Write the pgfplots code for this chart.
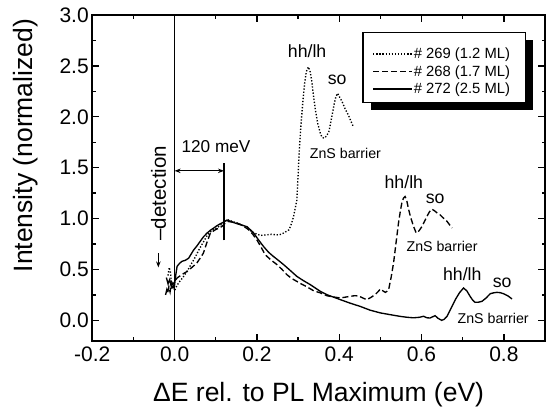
\documentclass[border=0pt]{standalone}
\usepackage{fontspec}
\setmainfont{Liberation Sans}
\usepackage{pgfplots}
\pgfplotsset{compat=1.18}
\usetikzlibrary{arrows.meta}

% PL excitation spectra, three samples
\pgfplotstableread{
x y
-0.020 0.42
-0.016 0.36
-0.012 0.40
-0.008 0.33
-0.004 0.37
0.000 0.35
0.003 0.45
0.006 0.53
0.012 0.56
0.018 0.58
0.026 0.59
0.034 0.61
0.040 0.65
0.046 0.69
0.054 0.73
0.062 0.775
0.070 0.82
0.079 0.858
0.087 0.885
0.095 0.907
0.103 0.93
0.111 0.949
0.119 0.965
0.127 0.985
0.135 0.975
0.144 0.96
0.152 0.949
0.164 0.935
0.176 0.92
0.184 0.89
0.192 0.858
0.204 0.79
0.216 0.726
0.228 0.67
0.240 0.628
0.252 0.59
0.265 0.547
0.281 0.49
0.297 0.432
0.313 0.39
0.330 0.35
0.354 0.285
0.370 0.252
0.403 0.203
0.427 0.168
0.451 0.137
0.475 0.100
0.500 0.073
0.525 0.055
0.548 0.039
0.565 0.030
0.580 0.025
0.595 0.030
0.605 0.040
0.613 0.025
0.621 0.023
0.627 0.035
0.633 0.046
0.640 0.020
0.649 0.000
0.655 0.010
0.662 0.040
0.672 0.120
0.682 0.203
0.692 0.270
0.702 0.318
0.710 0.290
0.718 0.236
0.724 0.200
0.730 0.177
0.738 0.178
0.747 0.187
0.757 0.220
0.767 0.262
0.775 0.270
0.783 0.275
0.791 0.272
0.799 0.262
0.810 0.240
0.820 0.210
}\sampleA

\pgfplotstableread{
x y
-0.022 0.25
-0.019 0.30
-0.017 0.27
-0.014 0.33
-0.011 0.28
-0.008 0.36
-0.005 0.30
-0.002 0.34
0.000 0.38
0.006 0.416
0.018 0.45
0.030 0.48
0.042 0.52
0.054 0.563
0.062 0.61
0.070 0.661
0.078 0.76
0.087 0.858
0.099 0.89
0.107 0.905
0.115 0.922
0.122 0.95
0.129 0.972
0.140 0.965
0.152 0.956
0.166 0.93
0.180 0.89
0.190 0.845
0.200 0.79
0.210 0.72
0.220 0.645
0.235 0.59
0.249 0.547
0.261 0.50
0.273 0.448
0.285 0.41
0.297 0.383
0.309 0.355
0.322 0.328
0.338 0.29
0.354 0.27
0.370 0.242
0.385 0.23
0.403 0.22
0.415 0.228
0.427 0.236
0.437 0.242
0.447 0.24
0.457 0.22
0.467 0.203
0.477 0.225
0.487 0.252
0.494 0.28
0.500 0.308
0.506 0.29
0.512 0.275
0.516 0.285
0.520 0.301
0.526 0.42
0.532 0.563
0.538 0.76
0.544 0.956
0.548 1.06
0.552 1.152
0.556 1.20
0.560 1.217
0.564 1.18
0.568 1.10
0.573 1.02
0.580 0.93
0.587 0.858
0.594 0.88
0.601 0.922
0.607 0.97
0.613 1.02
0.619 1.065
0.625 1.093
0.632 1.075
0.638 1.055
0.645 1.037
0.653 1.005
0.662 0.972
0.668 0.94
0.674 0.907
}\sampleB

\pgfplotstableread{
x y
-0.016 0.44
-0.013 0.52
-0.010 0.47
-0.008 0.38
-0.006 0.36
-0.004 0.31
-0.002 0.33
0.000 0.29
0.004 0.33
0.010 0.37
0.020 0.42
0.030 0.48
0.040 0.55
0.050 0.62
0.060 0.70
0.070 0.77
0.080 0.84
0.090 0.88
0.100 0.90
0.110 0.93
0.120 0.96
0.128 0.99
0.135 0.98
0.145 0.965
0.155 0.95
0.165 0.935
0.176 0.907
0.188 0.87
0.200 0.845
0.210 0.835
0.220 0.838
0.235 0.845
0.249 0.84
0.258 0.845
0.265 0.858
0.272 0.875
0.278 0.89
0.284 0.95
0.289 1.02
0.293 1.10
0.297 1.18
0.300 1.42
0.303 1.675
0.307 1.92
0.312 2.166
0.316 2.33
0.320 2.444
0.325 2.49
0.329 2.45
0.333 2.36
0.337 2.22
0.342 2.07
0.348 1.93
0.354 1.84
0.358 1.80
0.363 1.79
0.369 1.81
0.375 1.855
0.381 1.98
0.388 2.13
0.392 2.20
0.396 2.23
0.400 2.20
0.404 2.17
0.409 2.13
0.415 2.07
0.422 2.02
0.428 1.96
0.434 1.905
}\sampleC

\begin{document}
\begin{tikzpicture}
\begin{axis}[
  name=ax,
  scale only axis,
  width=452.7pt, height=325.7pt,
  xmin=-0.2, xmax=0.9,
  ymin=-0.2, ymax=3.0,
  xtick={-0.2,0,0.2,0.4,0.6,0.8},
  ytick={0,0.5,1,1.5,2,2.5,3},
  minor x tick num=1,
  minor y tick num=1,
  tick pos=both,
  tick align=inside,
  major tick length=7pt,
  minor tick length=3.5pt,
  axis line style={line width=1.6pt},
  every tick/.style={black, line width=1.4pt},
  /pgf/number format/assume math mode=true,
  /pgf/number format/fixed,
  /pgf/number format/fixed zerofill,
  /pgf/number format/precision=1,
  tick label style={font=\fontsize{21}{21}\selectfont},
  xticklabel style={yshift=-2.5pt},
  every axis x label/.style={at={(axis description cs:0.5,-0.1873)}, anchor=base},
  every axis y label/.style={at={(axis description cs:-0.1465,0.599)}, rotate=90, anchor=center},
  label style={font=\fontsize{26.5}{26.5}\selectfont},
  xlabel={ΔE rel. to PL Maximum (eV)},
  ylabel={Intensity (normalized)},
  legend style={draw=none, fill=none, at={(axis cs:0.4802,2.688)}, anchor=north west,
    inner sep=0pt, row sep=3.3pt, column sep=0pt, nodes={inner sep=1pt},
    font=\fontsize{14.8}{14.8}\selectfont},
  legend cell align=left,
  legend image code/.code={\draw[#1] (0pt,0pt) -- (39pt,0pt);},
  clip=false,
]
% legend frame with a solid drop shadow
\fill[black] ([shift={(8pt,-7.5pt)}]axis cs:0.4576,2.826) rectangle ([shift={(8pt,-7.5pt)}]axis cs:0.8518,2.139);
\draw[line width=1.3pt, fill=white] (axis cs:0.4576,2.826) rectangle (axis cs:0.8518,2.139);

\addplot[black, line width=1.35pt, dash pattern=on 1.3pt off 1.8pt] table {\sampleC};
\addlegendentry{\# 269 (1.2 ML)}
\addplot[black, line width=1.35pt, dash pattern=on 6pt off 3pt] table {\sampleB};
\addlegendentry{\# 268 (1.7 ML)}
\addplot[black, line width=1.35pt] table {\sampleA};
\addlegendentry{\# 272 (2.5 ML)}

% detection energy and shift marker
\draw[line width=1.4pt] (axis cs:0,-0.2) -- (axis cs:0,3.0);
\draw[line width=1.4pt] (axis cs:0.12,0.785) -- (axis cs:0.12,1.545);
\draw[line width=1.1pt, {Stealth[length=6pt,width=4.5pt]}-{Stealth[length=6pt,width=4.5pt]}]
  (axis cs:0,1.469) -- (axis cs:0.12,1.469);
\node[font=\fontsize{17.2}{17.2}\selectfont] at (axis cs:0.1006,1.707) {120 meV};
\node[rotate=90, font=\fontsize{20.5}{20.5}\selectfont] at (axis cs:-0.0389,1.25) {\textendash detection};
\draw[line width=1.1pt, -{Stealth[length=6pt,width=4.5pt]}] (axis cs:-0.0395,0.66) -- (axis cs:-0.0395,0.52);

% peak labels
\node[font=\fontsize{17.7}{17.7}\selectfont] at (axis cs:0.322,2.64) {hh/lh};
\node[font=\fontsize{17.7}{17.7}\selectfont] at (axis cs:0.395,2.36) {so};
\node[font=\fontsize{14.2}{14.2}\selectfont] at (axis cs:0.415,1.636) {ZnS barrier};
\node[font=\fontsize{17.7}{17.7}\selectfont] at (axis cs:0.557,1.361) {hh/lh};
\node[font=\fontsize{17.7}{17.7}\selectfont] at (axis cs:0.633,1.194) {so};
\node[font=\fontsize{14.2}{14.2}\selectfont] at (axis cs:0.650,0.724) {ZnS barrier};
\node[font=\fontsize{17.7}{17.7}\selectfont] at (axis cs:0.699,0.449) {hh/lh};
\node[font=\fontsize{17.7}{17.7}\selectfont] at (axis cs:0.796,0.370) {so};
\node[font=\fontsize{14.2}{14.2}\selectfont] at (axis cs:0.774,0.017) {ZnS barrier};
\end{axis}
\pgfresetboundingbox
\path[use as bounding box] ([shift={(-92.3pt,-66.3pt)}]ax.south west) rectangle ++(546pt,407pt);
\end{tikzpicture}
\end{document}
